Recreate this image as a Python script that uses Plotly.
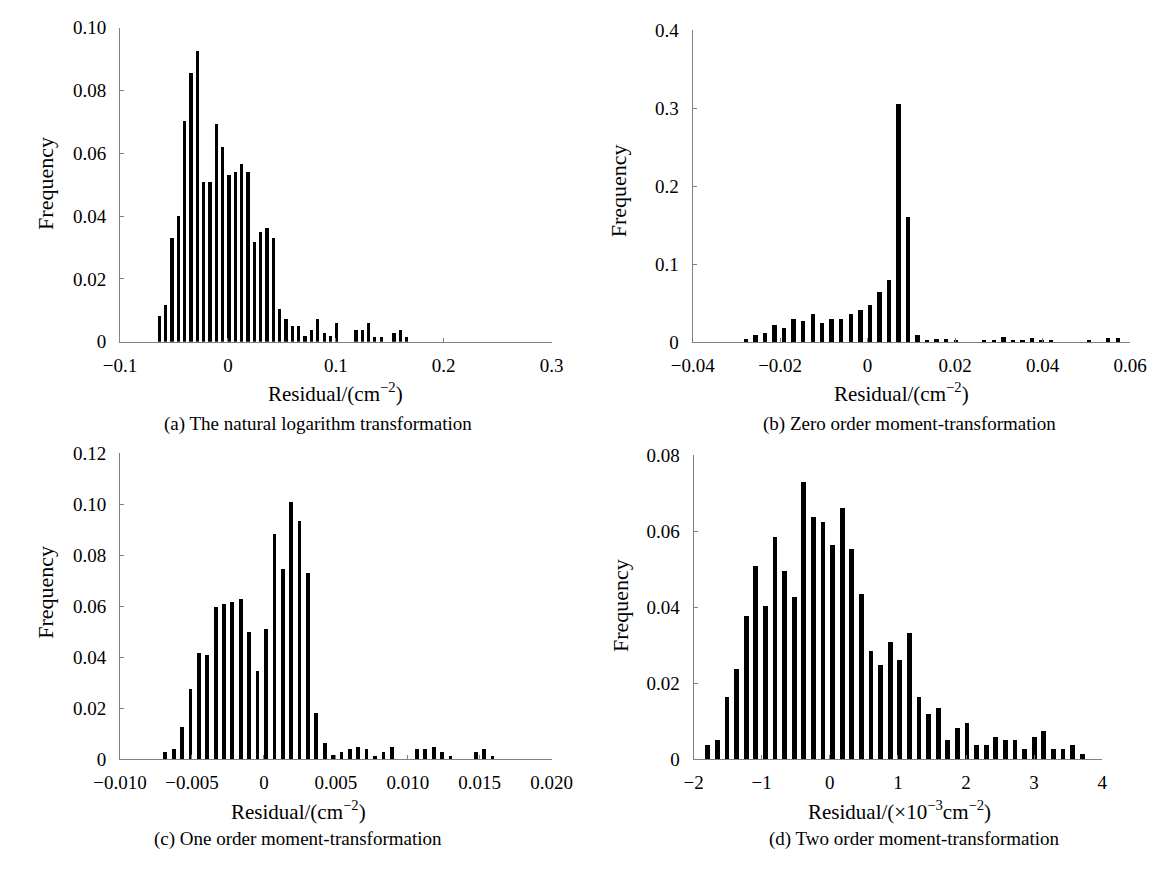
import plotly.graph_objects as go

# ---------------- data ----------------
# (a) natural logarithm transformation
a_centers = [-0.0637, -0.0578, -0.0519, -0.0461, -0.0402, -0.0343, -0.0284, -0.0225, -0.0167, -0.0108,
             -0.0049, 0.0010, 0.0069, 0.0127, 0.0186, 0.0245, 0.0304, 0.0363, 0.0421, 0.0480,
             0.0539, 0.0598, 0.0657, 0.0715, 0.0774, 0.0833, 0.0892, 0.0951, 0.1009, 0.1068,
             0.1127, 0.1186, 0.1245, 0.1303, 0.1362, 0.1421, 0.1480, 0.1539, 0.1597, 0.1656]
a_freq = [0.0085, 0.0119, 0.0332, 0.0403, 0.0705, 0.0857, 0.0928, 0.0510, 0.0510, 0.0694,
          0.0622, 0.0532, 0.0543, 0.0566, 0.0543, 0.0319, 0.0352, 0.0364, 0.0331, 0.0107,
          0.0075, 0.0052, 0.0052, 0.0019, 0.0039, 0.0074, 0.0028, 0.0019, 0.0062, 0.0,
          0.0, 0.0039, 0.0039, 0.0062, 0.0018, 0.0018, 0.0, 0.0028, 0.0039, 0.0018]

# (b) zero order moment-transformation
b_centers = [-0.0279, -0.0257, -0.0235, -0.0214, -0.0192, -0.0170, -0.0148, -0.0126, -0.0105, -0.0083,
             -0.0061, -0.0039, -0.0017, 0.0004, 0.0026, 0.0048, 0.0070, 0.0092, 0.0113, 0.0135,
             0.0157, 0.0179, 0.0201, 0.0222, 0.0244, 0.0266, 0.0288, 0.0310, 0.0331, 0.0353,
             0.0375, 0.0397, 0.0419, 0.0440, 0.0462, 0.0484, 0.0506, 0.0527, 0.0549, 0.0571]
b_freq = [0.0046, 0.0088, 0.0113, 0.0225, 0.0179, 0.0296, 0.0275, 0.0363, 0.0246, 0.0296,
          0.0296, 0.0363, 0.0408, 0.0479, 0.0642, 0.0800, 0.3050, 0.1600, 0.0092, 0.0025,
          0.0046, 0.0046, 0.0025, 0.0, 0.0, 0.0025, 0.0025, 0.0067, 0.0025, 0.0025,
          0.0050, 0.0025, 0.0025, 0.0, 0.0, 0.0, 0.0025, 0.0, 0.0050, 0.0050]

# (c) one order moment-transformation
c_centers = [-0.00685, -0.00627, -0.00568, -0.00510, -0.00452, -0.00394, -0.00335, -0.00277, -0.00219, -0.00160,
             -0.00102, -0.00044, 0.00015, 0.00073, 0.00131, 0.00190, 0.00248, 0.00306, 0.00364, 0.00423,
             0.00481, 0.00539, 0.00598, 0.00656, 0.00714, 0.00773, 0.00831, 0.00889, 0.00947, 0.01006,
             0.01064, 0.01122, 0.01181, 0.01239, 0.01297, 0.01356, 0.01414, 0.01472, 0.01530, 0.01589]
c_freq = [0.0028, 0.0042, 0.0127, 0.0276, 0.0417, 0.0409, 0.0595, 0.0608, 0.0615, 0.0628,
          0.0498, 0.0346, 0.0512, 0.0884, 0.0746, 0.1010, 0.0934, 0.0731, 0.0181, 0.0064,
          0.0017, 0.0028, 0.0042, 0.0050, 0.0042, 0.0015, 0.0028, 0.0050, 0.0, 0.0,
          0.0042, 0.0042, 0.0050, 0.0028, 0.0015, 0.0, 0.0, 0.0028, 0.0042, 0.0015]

# (d) two order moment-transformation (x in 1e-3 cm^-2)
d_centers = [-1.798, -1.657, -1.516, -1.375, -1.234, -1.093, -0.952, -0.811, -0.670, -0.529,
             -0.388, -0.247, -0.106, 0.035, 0.176, 0.317, 0.458, 0.599, 0.740, 0.881,
             1.022, 1.163, 1.304, 1.445, 1.586, 1.727, 1.868, 2.009, 2.150, 2.291,
             2.432, 2.573, 2.714, 2.855, 2.996, 3.137, 3.278, 3.419, 3.560, 3.701]
d_freq = [0.0038, 0.0052, 0.0165, 0.0239, 0.0376, 0.0509, 0.0403, 0.0585, 0.0495, 0.0426,
          0.0728, 0.0638, 0.0624, 0.0563, 0.0661, 0.0554, 0.0436, 0.0285, 0.0249, 0.0308,
          0.0262, 0.0331, 0.0165, 0.0120, 0.0134, 0.0051, 0.0084, 0.0097, 0.0038, 0.0038,
          0.0060, 0.0051, 0.0051, 0.0028, 0.0060, 0.0074, 0.0028, 0.0028, 0.0038, 0.0015]

# tick values / labels
a_xticks = [-0.1, 0, 0.1, 0.2, 0.3]
a_xlabels = ["\u22120.1", "0", "0.1", "0.2", "0.3"]
a_yticks = [0, 0.02, 0.04, 0.06, 0.08, 0.10]
a_ylabels = ["0", "0.02", "0.04", "0.06", "0.08", "0.10"]

b_xticks = [-0.04, -0.02, 0, 0.02, 0.04, 0.06]
b_xlabels = ["\u22120.04", "\u22120.02", "0", "0.02", "0.04", "0.06"]
b_yticks = [0, 0.1, 0.2, 0.3, 0.4]
b_ylabels = ["0", "0.1", "0.2", "0.3", "0.4"]

c_xticks = [-0.010, -0.005, 0, 0.005, 0.010, 0.015, 0.020]
c_xlabels = ["\u22120.010", "\u22120.005", "0", "0.005", "0.010", "0.015", "0.020"]
c_yticks = [0, 0.02, 0.04, 0.06, 0.08, 0.10, 0.12]
c_ylabels = ["0", "0.02", "0.04", "0.06", "0.08", "0.10", "0.12"]

d_xticks = [-2, -1, 0, 1, 2, 3, 4]
d_xlabels = ["\u22122", "\u22121", "0", "1", "2", "3", "4"]
d_yticks = [0, 0.02, 0.04, 0.06, 0.08]
d_ylabels = ["0", "0.02", "0.04", "0.06", "0.08"]

xtitles = ["Residual/(cm<sup>\u22122</sup>)", "Residual/(cm<sup>\u22122</sup>)",
           "Residual/(cm<sup>\u22122</sup>)", "Residual/(\u00d710<sup>\u22123</sup>cm<sup>\u22122</sup>)"]
captions = ["(a) The natural logarithm transformation", "(b) Zero order moment-transformation",
            "(c) One order moment-transformation", "(d) Two order moment-transformation"]

# ---------------- figure ----------------
W, H = 1175, 870
FONT = "Liberation Serif, Times New Roman, serif"
AXC = "#808080"


def px(x):
    return x / W


def py(y):
    return 1 - y / H


panels = [
    # centers, freq, width, xrange, yrange, xticks, xlabels, yticks, ylabels, xdom(px), ydom(px)
    (a_centers, a_freq, 0.0030, [-0.1, 0.3], [0, 0.10], a_xticks, a_xlabels, a_yticks, a_ylabels, (97, 547), (340, 18)),
    (b_centers, b_freq, 0.0010, [-0.04, 0.06], [0, 0.4], b_xticks, b_xlabels, b_yticks, b_ylabels, (694, 1150), (340.5, 20.5)),
    (c_centers, c_freq, 0.00026, [-0.010, 0.020], [0, 0.12], c_xticks, c_xlabels, c_yticks, c_ylabels, (97, 547), (768, 454)),
    (d_centers, d_freq, 0.072, [-2, 4], [0, 0.08], d_xticks, d_xlabels, d_yticks, d_ylabels, (695, 1121), (768, 456)),
]

fig = go.Figure()
layout = dict(
    width=W, height=H, margin=dict(l=0, r=0, t=0, b=0),
    paper_bgcolor="white", plot_bgcolor="white", showlegend=False,
    font=dict(family=FONT, size=19, color="black"),
    bargap=0,
)

for i, (cx, fy, bw, xr, yr, xt, xl, yt, yl, xd, yd) in enumerate(panels):
    n = "" if i == 0 else str(i + 1)
    fig.add_trace(go.Bar(x=cx, y=fy, width=bw, marker=dict(color="black", line=dict(width=0)),
                         xaxis="x" + n, yaxis="y" + n, hoverinfo="x+y"))
    layout["xaxis" + n] = dict(
        domain=[px(xd[0]), px(xd[1])], range=xr, anchor="y" + n,
        tickmode="array", tickvals=xt, ticktext=xl,
        showline=True, linecolor=AXC, linewidth=1, mirror=False,
        ticks="inside", ticklen=4, tickcolor=AXC, tickwidth=1,
        ticklabelstandoff=6,
        showgrid=False, zeroline=False, tickfont=dict(family=FONT, size=19, color="black"),
    )
    layout["yaxis" + n] = dict(
        domain=[py(yd[0]), py(yd[1])], range=yr, anchor="x" + n,
        tickmode="array", tickvals=yt, ticktext=yl,
        showline=True, linecolor=AXC, linewidth=1, mirror=False,
        ticks="inside", ticklen=4, tickcolor=AXC, tickwidth=1,
        ticklabelstandoff=9,
        showgrid=False, zeroline=False, tickfont=dict(family=FONT, size=19, color="black"),
    )

fig.update_layout(**layout)

# text annotations: x titles, captions, y titles
xt_pos = [(322, 392), (912, 392), (283, 820), (910, 820)]
cap_pos = [(303, 424), (920, 424), (283, 850), (925, 850)]
yt_pos = [(19, 178), (617, 185), (19, 597), (619, 610)]

for i in range(4):
    fig.add_annotation(text=xtitles[i], x=px(xt_pos[i][0]), y=py(xt_pos[i][1]), xref="paper", yref="paper",
                       showarrow=False, font=dict(family=FONT, size=21, color="black"),
                       xanchor="center", yanchor="middle")
    fig.add_annotation(text=captions[i], x=px(cap_pos[i][0]), y=py(cap_pos[i][1]), xref="paper", yref="paper",
                       showarrow=False, font=dict(family=FONT, size=19, color="black"),
                       xanchor="center", yanchor="middle")
    fig.add_annotation(text="Frequency", x=px(yt_pos[i][0]), y=py(yt_pos[i][1]), xref="paper", yref="paper",
                       showarrow=False, textangle=-90, font=dict(family=FONT, size=22, color="black"),
                       xanchor="center", yanchor="middle")

fig.write_html("out.html")
